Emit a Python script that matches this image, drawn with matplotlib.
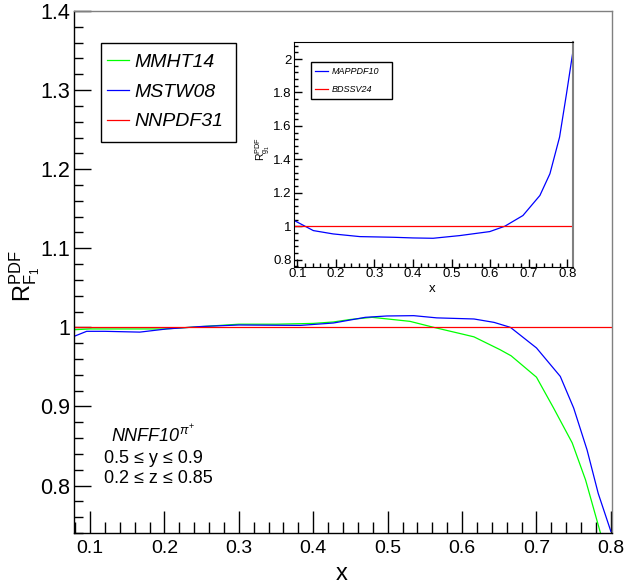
import matplotlib
matplotlib.use("Agg")
import matplotlib.pyplot as plt
from matplotlib.ticker import MultipleLocator
from matplotlib.patches import Rectangle

plt.rcParams['font.family'] = ['Liberation Sans', 'DejaVu Sans']
plt.rcParams['mathtext.fontset'] = 'custom'
plt.rcParams['mathtext.rm'] = 'Liberation Sans'
plt.rcParams['mathtext.it'] = 'Liberation Sans:italic'
plt.rcParams['mathtext.sf'] = 'Liberation Sans'

# main panel: ratio R_F1 for different PDF sets
mmht_x = [0.0785, 0.10, 0.15, 0.20, 0.25, 0.30, 0.35, 0.40, 0.427, 0.45, 0.479,
          0.53, 0.562, 0.60, 0.616, 0.651, 0.666, 0.70, 0.723, 0.748, 0.766, 0.786]
mmht_y = [0.997, 0.998, 0.998, 0.998, 1.001, 1.004, 1.004, 1.005, 1.0068, 1.010, 1.0127,
          1.0076, 1.000, 0.9916, 0.988, 0.9718, 0.964, 0.937, 0.898, 0.854, 0.807, 0.740]

mstw_x = [0.0785, 0.0955, 0.12, 0.167, 0.203, 0.248, 0.30, 0.383, 0.427, 0.470, 0.499,
          0.535, 0.566, 0.616, 0.643, 0.665, 0.70, 0.732, 0.750, 0.768, 0.783, 0.80]
mstw_y = [0.9886, 0.995, 0.995, 0.994, 0.998, 1.001, 1.003, 1.0025, 1.0055, 1.0127, 1.0144,
          1.0148, 1.012, 1.0106, 1.0063, 1.000, 0.974, 0.938, 0.898, 0.845, 0.790, 0.742]

nnpdf_x = [0.0785, 0.8015]
nnpdf_y = [1.0, 1.0]

# inset: ratio R_g1 for polarised PDF sets
mappdf_x = [0.0922, 0.1415, 0.193, 0.262, 0.349, 0.40, 0.452, 0.521, 0.599, 0.638,
            0.685, 0.729, 0.755, 0.78, 0.798, 0.8156]
mappdf_y = [1.034, 0.974, 0.954, 0.938, 0.934, 0.930, 0.928, 0.944, 0.968, 1.000,
            1.064, 1.184, 1.314, 1.533, 1.793, 2.06]

bdssv_x = [0.0922, 0.8156]
bdssv_y = [1.0, 1.0]

main_labels = ["MMHT14", "MSTW08", "NNPDF31"]
inset_labels = ["MAPPDF10", "BDSSV24"]

fig = plt.figure(figsize=(6.26, 5.84), dpi=100)
ax = fig.add_axes([74/626, 51/584, 538/626, 522/584])

ax.plot(mmht_x, mmht_y, color='#00ff00', lw=0.9, label=main_labels[0])
ax.plot(mstw_x, mstw_y, color='#0000ff', lw=0.9, label=main_labels[1])
ax.plot(nnpdf_x, nnpdf_y, color='#ff0000', lw=0.9, label=main_labels[2])

ax.set_xlim(0.0785, 0.8015)
ax.set_ylim(0.74, 1.4)
ax.xaxis.set_major_locator(MultipleLocator(0.1))
ax.xaxis.set_minor_locator(MultipleLocator(0.02))
ax.yaxis.set_major_locator(MultipleLocator(0.1))
ax.yaxis.set_minor_locator(MultipleLocator(0.02))
ax.xaxis.set_major_formatter(lambda v, p: f"{v:g}")
ax.yaxis.set_major_formatter(lambda v, p: f"{v:g}")
ax.tick_params(axis='x', which='major', direction='in', length=15.5, width=1,
               labelsize=14, pad=5, top=False)
ax.tick_params(axis='x', which='minor', direction='in', length=7.7, width=1, top=False)
ax.tick_params(axis='y', which='major', direction='in', length=12, width=1,
               labelsize=15.5, pad=3, right=False)
ax.tick_params(axis='y', which='minor', direction='in', length=6.5, width=1, right=False)
for s in ['left', 'bottom']:
    ax.spines[s].set_linewidth(1)
for s in ['top', 'right']:
    ax.spines[s].set_color('#808080')
    ax.spines[s].set_linewidth(1)

ax.set_xlabel('x', fontsize=17)
ax.xaxis.set_label_coords(0.4976, -0.090)
ax.xaxis.label.set_verticalalignment('baseline')
fig.text(25/626, (584-276)/584, r'$\mathrm{R}^{\mathrm{PDF}}_{\mathrm{F}_{1}}$',
         fontsize=17, rotation=90, ha='center', va='center')

ax.text(0.0688, 0.174, r'NNFF10$^{\pi^{+}}$', transform=ax.transAxes,
        fontsize=13, fontstyle='italic', va='baseline')
ax.text(0.0558, 0.134, '0.5 ≤ y ≤ 0.9', transform=ax.transAxes, fontsize=13, va='baseline')
ax.text(0.0558, 0.0958, '0.2 ≤ z ≤ 0.85', transform=ax.transAxes, fontsize=13, va='baseline')

ax.add_patch(Rectangle((0.0502, 0.750), 0.2509, 0.189, transform=ax.transAxes,
                       facecolor='white', edgecolor='black', lw=1, zorder=4))
leg = ax.legend(loc='center left', bbox_to_anchor=(0.0608, 0.845), frameon=False,
                borderpad=0, borderaxespad=0, handlelength=1.16, handletextpad=0.29,
                labelspacing=0.62, prop={'style': 'italic', 'size': 14})
leg.set_zorder(5)

# inset
axi = fig.add_axes([294.3/626, (584-266.7)/584, 279/626, 224.4/584])
axi.plot(mappdf_x, mappdf_y, color='#0000ff', lw=0.9, label=inset_labels[0])
axi.plot(bdssv_x, bdssv_y, color='#ff0000', lw=0.9, label=inset_labels[1])
axi.set_xlim(0.0922, 0.8156)
axi.set_ylim(0.758, 2.1)
axi.xaxis.set_major_locator(MultipleLocator(0.1))
axi.xaxis.set_minor_locator(MultipleLocator(0.02))
axi.yaxis.set_major_locator(MultipleLocator(0.2))
axi.yaxis.set_minor_locator(MultipleLocator(0.04))
axi.xaxis.set_major_formatter(lambda v, p: f"{v:g}")
axi.yaxis.set_major_formatter(lambda v, p: f"{v:g}")
axi.tick_params(axis='both', which='major', direction='in', length=5.5, width=1,
                labelsize=9.5, pad=2, top=False, right=False)
axi.tick_params(axis='both', which='minor', direction='in', length=3, width=1,
                top=False, right=False)
axi.tick_params(axis='x', which='major', pad=1)
axi.spines['right'].set_color('#808080')
axi.spines['right'].set_linewidth(1.5)

axi.set_xlabel('x', fontsize=9.5)
axi.xaxis.set_label_coords(0.4935, -0.1127)
axi.xaxis.label.set_verticalalignment('baseline')
fig.text(263/626, (584-149)/584, r'$\mathrm{R}^{\mathrm{PDF}}_{\mathrm{g}_{1}}$',
         fontsize=7.5, rotation=90, ha='center', va='center')

axi.add_patch(Rectangle((0.0599, 0.747), 0.291, 0.1665, transform=axi.transAxes,
                        facecolor='white', edgecolor='black', lw=1, zorder=4))
legi = axi.legend(loc='center left', bbox_to_anchor=(0.0742, 0.830), frameon=False,
                  borderpad=0, borderaxespad=0, handlelength=1.47, handletextpad=0.38,
                  labelspacing=0.98, prop={'style': 'italic', 'size': 6.5})
legi.set_zorder(5)

fig.savefig('out.png', dpi=100)
